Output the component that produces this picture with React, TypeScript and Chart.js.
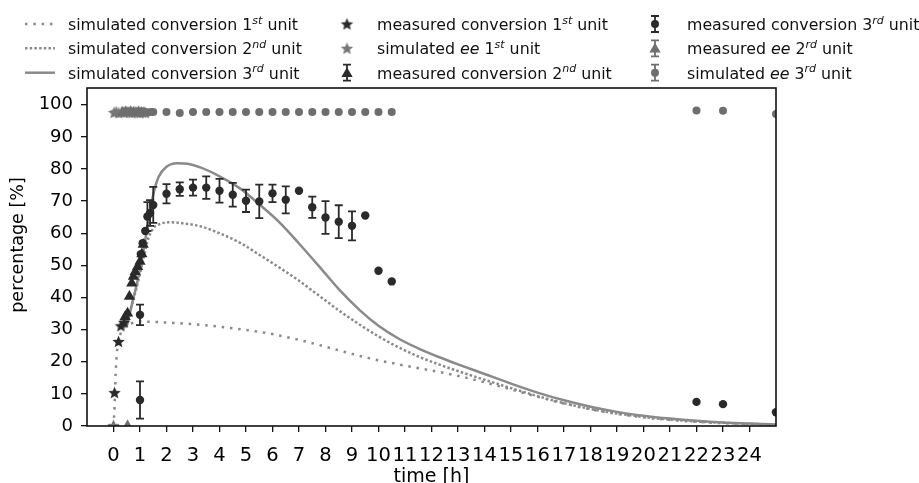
import React, { useEffect, useRef } from "react";
import { Chart, registerables } from "chart.js";

Chart.register(...registerables);

const FONT = "'DejaVu Sans', 'Liberation Sans', sans-serif";
const DARK = "#2a2a2a";
const GRAY = "#6e6e6e";
const LINE_GRAY = "#8a8a8a";

// ---- axes ----
const xTicks = [0, 1, 2, 3, 4, 5, 6, 7, 8, 9, 10, 11, 12, 13, 14, 15, 16, 17, 18, 19, 20, 21, 22, 23, 24];
const yTicks = [0, 10, 20, 30, 40, 50, 60, 70, 80, 90, 100];
const xTitle = "time [h]";
const yTitle = "percentage [%]";

// ---- simulated conversion 1st unit ----
const sim1X = [0, 0.04, 0.08, 0.12, 0.2, 0.3, 0.45, 0.7, 1.0, 1.5, 2.0, 3.3, 4.5, 5.8, 7.0, 8.3, 9.6, 10.8, 12.3, 13, 14, 15, 16, 17, 18, 19, 20, 21, 22, 23, 24, 25];
const sim1Y = [0, 6, 16, 22, 26.5, 29.5, 31, 32, 32.5, 32.4, 32.2, 31.5, 30.4, 28.9, 26.8, 24.0, 21.2, 19.1, 16.8, 15.6, 13.6, 11.4, 9.1, 7.0, 5.2, 3.8, 2.7, 1.9, 1.3, 0.9, 0.6, 0.4];

// ---- simulated conversion 2nd unit ----
const sim2X = [0.45, 0.7, 0.9, 1.1, 1.3, 1.5, 1.7, 2.1, 2.6, 3.3, 4.0, 4.8, 5.5, 6.3, 7.0, 7.8, 8.5, 9.3, 10.0, 10.8, 11.6, 12.3, 13, 14, 15, 16, 17, 18, 19, 20, 21, 22, 23, 24, 25];
const sim2Y = [31, 38, 44, 51, 58, 61.5, 62.7, 63.4, 63.1, 62.1, 60.0, 56.9, 53.3, 49.1, 45.2, 40.3, 36.0, 31.5, 27.9, 24.3, 21.3, 19.1, 17.1, 14.4, 11.8, 9.3, 7.1, 5.3, 3.9, 2.8, 2.0, 1.4, 1.0, 0.7, 0.4];

// ---- simulated conversion 3rd unit ----
const sim3X = [0.5, 0.7, 0.9, 1.1, 1.3, 1.5, 1.7, 2.0, 2.4, 2.8, 3.3, 4.0, 4.8, 5.5, 6.3, 7.0, 7.8, 8.5, 9.3, 10.0, 10.8, 11.6, 12.3, 13, 14, 15, 16, 17, 18, 19, 20, 21, 22, 23, 24, 25];
const sim3Y = [31, 38, 45, 53, 63, 72, 77.5, 80.7, 81.8, 81.6, 80.4, 77.7, 73.8, 69.0, 63.1, 56.8, 49.3, 42.6, 36.0, 31.2, 27.0, 23.8, 21.4, 19.2, 16.2, 13.2, 10.4, 8.0, 6.0, 4.4, 3.2, 2.3, 1.6, 1.1, 0.8, 0.5];

// ---- measured conversion 1st unit ----
const mc1X = [0, 0.04, 0.19, 0.28, 0.4];
const mc1Y = [0, 10.4, 26.3, 31.2, 32.3];

// ---- simulated ee 1st unit ----
const se1X = [0, 0.02, 0.1, 0.2, 0.3, 0.4, 0.5, 0.6, 0.7, 0.8, 0.9, 1.0, 1.1, 1.2];
const se1Y = [0, 97.6, 97.8, 97.5, 97.7, 97.6, 97.8, 97.6, 97.5, 97.7, 97.6, 97.5, 97.6, 97.5];

// ---- measured conversion 2nd unit ----
const mc2X = [0.44, 0.53, 0.6, 0.69, 0.75, 0.82, 0.91, 1.0, 1.07, 1.12];
const mc2Y = [34.0, 35.1, 40.3, 44.4, 46.5, 48.0, 49.6, 51.2, 53.5, 56.5];
const mc2Err = [0, 0, 0, 0, 0, 0, 0, 0, 0, 0];

// ---- measured conversion 3rd unit ----
const mc3X = [1.0, 1.0, 1.03, 1.1, 1.2, 1.28, 1.38, 1.5, 2.0, 2.5, 3.0, 3.5, 4.0, 4.5, 5.0, 5.5, 6.0, 6.5, 7.0, 7.5, 8.0, 8.5, 9.0, 9.5, 10.0, 10.5, 22, 23, 25];
const mc3Y = [8.1, 34.6, 53.5, 56.9, 60.7, 65.2, 66.3, 68.8, 72.3, 73.7, 74.2, 74.2, 73.2, 72.0, 70.1, 69.9, 72.4, 70.4, 73.2, 68.1, 64.9, 63.6, 62.3, 65.5, 48.3, 45.0, 7.5, 6.8, 4.3];
const mc3Err = [5.8, 3.2, 0, 0, 0, 4.5, 4.0, 5.6, 3.0, 2.1, 2.5, 3.5, 3.7, 3.7, 3.5, 5.2, 2.7, 4.2, 0, 3.3, 5.1, 5.1, 4.5, 0, 0, 0, 0, 0, 0];

// ---- measured ee 2nd unit ----
const me2X = [0.53, 0.35, 0.45, 0.55, 0.65, 0.75, 0.85, 0.95, 1.05, 1.15];
const me2Y = [0, 97.6, 97.7, 97.5, 97.8, 97.6, 97.5, 97.7, 97.6, 97.5];

// ---- simulated ee 3rd unit ----
const se3X = [1.0, 1.1, 1.2, 1.3, 1.4, 1.5, 2.0, 2.5, 3.0, 3.5, 4.0, 4.5, 5.0, 5.5, 6.0, 6.5, 7.0, 7.5, 8.0, 8.5, 9.0, 9.5, 10.0, 10.5, 22, 23, 25];
const se3Y = [97.6, 97.6, 97.7, 97.6, 97.7, 97.7, 97.7, 97.4, 97.7, 97.7, 97.7, 97.7, 97.7, 97.7, 97.7, 97.7, 97.7, 97.7, 97.7, 97.7, 97.7, 97.7, 97.7, 97.7, 98.2, 98.1, 97.1];

const pts = (xs: number[], ys: number[]) => xs.map((x, i) => ({ x, y: ys[i] }));

type Seg = { t: string; sup?: boolean; it?: boolean };
const legendLabels: Seg[][] = [
  [{ t: "simulated conversion 1" }, { t: "st", sup: true }, { t: " unit" }],
  [{ t: "simulated conversion 2" }, { t: "nd", sup: true }, { t: " unit" }],
  [{ t: "simulated conversion 3" }, { t: "rd", sup: true }, { t: " unit" }],
  [{ t: "measured conversion 1" }, { t: "st", sup: true }, { t: " unit" }],
  [{ t: "simulated " }, { t: "ee", it: true }, { t: " 1" }, { t: "st", sup: true }, { t: " unit" }],
  [{ t: "measured conversion 2" }, { t: "nd", sup: true }, { t: " unit" }],
  [{ t: "measured conversion 3" }, { t: "rd", sup: true }, { t: " unit" }],
  [{ t: "measured " }, { t: "ee", it: true }, { t: " 2" }, { t: "rd", sup: true }, { t: " unit" }],
  [{ t: "simulated " }, { t: "ee", it: true }, { t: " 3" }, { t: "rd", sup: true }, { t: " unit" }],
];

function makeStar(color: string, r: number): HTMLCanvasElement {
  const size = Math.ceil(r * 2 + 2);
  const c = document.createElement("canvas");
  c.width = size;
  c.height = size;
  const ctx = c.getContext("2d")!;
  const cx = size / 2;
  const cy = size / 2 + r * 0.08;
  const inner = r * 0.45;
  ctx.beginPath();
  for (let i = 0; i < 10; i++) {
    const rad = i % 2 === 0 ? r : inner;
    const a = -Math.PI / 2 + (i * Math.PI) / 5;
    const px = cx + rad * Math.cos(a);
    const py = cy + rad * Math.sin(a);
    if (i === 0) ctx.moveTo(px, py);
    else ctx.lineTo(px, py);
  }
  ctx.closePath();
  ctx.fillStyle = color;
  ctx.fill();
  return c;
}

const DASH1 = [2.5, 5.8];
const DASH2 = [2.5, 2.2];
const LEGEND_SIZE = 15.8;
const SUP_SIZE = 11;

export default function App() {
  const ref = useRef<HTMLCanvasElement | null>(null);

  useEffect(() => {
    if (!ref.current) return;
    const starDark = makeStar(DARK, 6.5);
    const starGray = makeStar("#777777", 6.5);

    const errorBarPlugin = {
      id: "errorBars",
      afterDatasetDraw(chart: any, args: any) {
        const ds: any = chart.data.datasets[args.index];
        if (!ds.errorBars) return;
        const ys = chart.scales.y;
        const ctx = chart.ctx;
        const a = chart.chartArea;
        ctx.save();
        ctx.beginPath();
        ctx.rect(a.left, a.top, a.right - a.left, a.bottom - a.top);
        ctx.clip();
        ctx.strokeStyle = ds.errorColor;
        ctx.lineWidth = 1.8;
        args.meta.data.forEach((p: any, i: number) => {
          const e = ds.errorBars[i];
          if (!e) return;
          const v = ds.data[i].y;
          const top = ys.getPixelForValue(v + e);
          const bot = ys.getPixelForValue(v - e);
          ctx.beginPath();
          ctx.moveTo(p.x, top);
          ctx.lineTo(p.x, bot);
          ctx.moveTo(p.x - 4, top);
          ctx.lineTo(p.x + 4, top);
          ctx.moveTo(p.x - 4, bot);
          ctx.lineTo(p.x + 4, bot);
          ctx.stroke();
        });
        ctx.restore();
      },
    };

    const framePlugin = {
      id: "frame",
      afterDraw(chart: any) {
        const ctx = chart.ctx;
        const a = chart.chartArea;
        ctx.save();
        ctx.strokeStyle = "#111";
        ctx.lineWidth = 1.6;
        ctx.strokeRect(a.left, a.top, a.right - a.left, a.bottom - a.top);
        ctx.translate(18, 245);
        ctx.rotate(-Math.PI / 2);
        ctx.fillStyle = "#000";
        ctx.font = `17.5px ${FONT}`;
        ctx.textAlign = "center";
        ctx.textBaseline = "middle";
        ctx.fillText(yTitle, 0, 0);
        ctx.restore();
      },
    };

    const drawTriangle = (ctx: CanvasRenderingContext2D, x: number, y: number, r: number, color: string) => {
      ctx.beginPath();
      for (let k = 0; k < 3; k++) {
        const ang = (k * 2 * Math.PI) / 3;
        const px = x + Math.sin(ang) * r;
        const py = y - Math.cos(ang) * r;
        if (k === 0) ctx.moveTo(px, py);
        else ctx.lineTo(px, py);
      }
      ctx.closePath();
      ctx.fillStyle = color;
      ctx.fill();
    };
    const drawErrHandle = (ctx: CanvasRenderingContext2D, x: number, y: number, color: string) => {
      ctx.strokeStyle = color;
      ctx.lineWidth = 1.8;
      ctx.setLineDash([]);
      ctx.beginPath();
      ctx.moveTo(x, y - 8);
      ctx.lineTo(x, y + 8);
      ctx.moveTo(x - 4, y - 8);
      ctx.lineTo(x + 4, y - 8);
      ctx.moveTo(x - 4, y + 8);
      ctx.lineTo(x + 4, y + 8);
      ctx.stroke();
    };

    const legendPlugin = {
      id: "customLegend",
      afterDraw(chart: any) {
        const ctx: CanvasRenderingContext2D = chart.ctx;
        const rowsY = [24, 48.3, 72.7];
        const handleX = [40, 347, 655];
        const textX = [68, 377, 687];
        ctx.save();
        for (let i = 0; i < legendLabels.length; i++) {
          const col = Math.floor(i / 3);
          const row = i % 3;
          const y = rowsY[row];
          const hx = handleX[col];
          if (col === 0) {
            ctx.strokeStyle = LINE_GRAY;
            ctx.lineWidth = 2.5;
            ctx.setLineDash(row === 0 ? DASH1 : row === 1 ? DASH2 : []);
            ctx.beginPath();
            ctx.moveTo(25, y);
            ctx.lineTo(55, y);
            ctx.stroke();
            ctx.setLineDash([]);
          } else if (i === 3) {
            ctx.drawImage(starDark, hx - starDark.width / 2, y - starDark.height / 2);
          } else if (i === 4) {
            ctx.drawImage(starGray, hx - starGray.width / 2, y - starGray.height / 2);
          } else if (i === 5) {
            drawErrHandle(ctx, hx, y, DARK);
            drawTriangle(ctx, hx, y + 1, 6.5, DARK);
          } else if (i === 6) {
            drawErrHandle(ctx, hx, y, DARK);
            ctx.beginPath();
            ctx.arc(hx, y, 4, 0, Math.PI * 2);
            ctx.fillStyle = DARK;
            ctx.fill();
          } else if (i === 7) {
            drawErrHandle(ctx, hx, y, GRAY);
            drawTriangle(ctx, hx, y + 1, 6.5, GRAY);
          } else if (i === 8) {
            drawErrHandle(ctx, hx, y, GRAY);
            ctx.beginPath();
            ctx.arc(hx, y, 4, 0, Math.PI * 2);
            ctx.fillStyle = GRAY;
            ctx.fill();
          }
          let cx = textX[col];
          ctx.fillStyle = "#111";
          ctx.textBaseline = "alphabetic";
          ctx.textAlign = "left";
          for (const s of legendLabels[i]) {
            const size = s.sup ? SUP_SIZE : LEGEND_SIZE;
            ctx.font = `${s.sup || s.it ? "italic " : ""}${size}px ${FONT}`;
            ctx.fillText(s.t, cx, y + 6 + (s.sup ? -6.5 : 0));
            cx += ctx.measureText(s.t).width;
          }
        }
        ctx.restore();
      },
    };

    const lineDs = (label: string, xs: number[], ys: number[], dash: number[]) => ({
      label,
      data: pts(xs, ys),
      showLine: true,
      borderColor: LINE_GRAY,
      borderWidth: 2.5,
      borderDash: dash,
      pointRadius: 0,
      cubicInterpolationMode: "monotone",
      clip: 0,
    });

    const rawDatasets: any[] = [
      lineDs("simulated conversion 1st unit", sim1X, sim1Y, DASH1),
      lineDs("simulated conversion 2nd unit", sim2X, sim2Y, DASH2),
      lineDs("simulated conversion 3rd unit", sim3X, sim3Y, []),
      {
        label: "measured conversion 1st unit",
        data: pts(mc1X, mc1Y),
        pointStyle: starDark,
        pointRadius: 6.5,
        clip: 0,
      },
      {
        label: "simulated ee 1st unit",
        data: pts(se1X, se1Y),
        pointStyle: starGray,
        pointRadius: 6.5,
        clip: 0,
      },
      {
        label: "measured conversion 2nd unit",
        data: pts(mc2X, mc2Y),
        pointStyle: "triangle",
        pointRadius: 6.5,
        pointBackgroundColor: DARK,
        pointBorderColor: DARK,
        pointBorderWidth: 0,
        errorBars: mc2Err,
        errorColor: DARK,
        clip: 0,
      },
      {
        label: "measured conversion 3rd unit",
        data: pts(mc3X, mc3Y),
        pointStyle: "circle",
        pointRadius: 4.2,
        pointBackgroundColor: DARK,
        pointBorderColor: DARK,
        pointBorderWidth: 0,
        errorBars: mc3Err,
        errorColor: DARK,
        clip: 0,
      },
      {
        label: "measured ee 2nd unit",
        data: pts(me2X, me2Y),
        pointStyle: "triangle",
        pointRadius: 6.5,
        pointBackgroundColor: GRAY,
        pointBorderColor: GRAY,
        pointBorderWidth: 0,
        clip: 0,
      },
      {
        label: "simulated ee 3rd unit",
        data: pts(se3X, se3Y),
        pointStyle: "circle",
        pointRadius: 4,
        pointBackgroundColor: GRAY,
        pointBorderColor: GRAY,
        pointBorderWidth: 0,
        clip: 0,
      },
    ];
    const n = rawDatasets.length;
    const datasets = rawDatasets.map((d, i) => ({ ...d, order: n - i }));

    const chart = new Chart(ref.current, {
      type: "scatter",
      data: { datasets },
      options: {
        responsive: false,
        maintainAspectRatio: false,
        devicePixelRatio: 1,
        animation: false,
        layout: { padding: { left: 0, right: 143, top: 88, bottom: 0 } },
        plugins: {
          legend: { display: false },
          tooltip: { enabled: false },
        },
        scales: {
          x: {
            type: "linear",
            min: -1,
            max: 25,
            afterBuildTicks: (s: any) => {
              s.ticks = xTicks.map((v) => ({ value: v }));
            },
            afterFit: (s: any) => {
              s.height = 57;
            },
            ticks: {
              autoSkip: false,
              maxRotation: 0,
              minRotation: 0,
              font: { family: FONT, size: 19.5 },
              color: "#000",
              padding: 12,
            },
            grid: {
              drawOnChartArea: false,
              drawTicks: true,
              tickLength: 6,
              color: "#111",
              lineWidth: 1.3,
            },
            border: { display: false },
            title: {
              display: true,
              text: xTitle,
              font: { family: FONT, size: 19 },
              color: "#000",
              padding: { top: 0, bottom: -5 },
            },
          },
          y: {
            type: "linear",
            min: 0,
            max: 105.2,
            afterBuildTicks: (s: any) => {
              s.ticks = yTicks.map((v) => ({ value: v }));
            },
            afterFit: (s: any) => {
              s.width = 87;
            },
            ticks: {
              font: { family: FONT, size: 18 },
              color: "#000",
              padding: 8,
            },
            grid: {
              drawOnChartArea: false,
              drawTicks: true,
              tickLength: 6,
              color: "#111",
              lineWidth: 1.3,
            },
            border: { display: false },
            title: { display: false, text: yTitle },
          },
        },
      } as any,
      plugins: [errorBarPlugin, framePlugin, legendPlugin],
    });
    return () => chart.destroy();
  }, []);

  return (
    <div style={{ position: "absolute", left: 0, top: 0, width: 919, height: 483, background: "#fff" }}>
      <canvas ref={ref} width={919} height={483} style={{ display: "block", width: 919, height: 483 }} />
    </div>
  );
}
